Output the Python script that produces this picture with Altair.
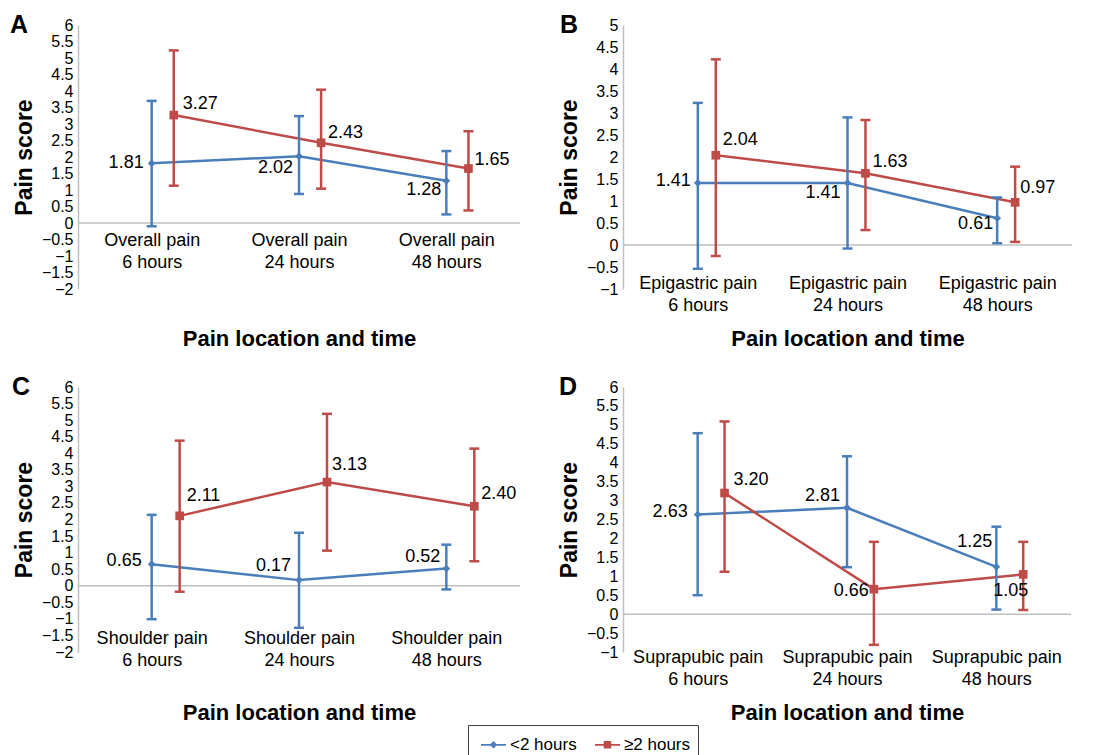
import altair as alt
import pandas as pd

FONT = "Liberation Sans"
TIMES = ["6 hours", "24 hours", "48 hours"]
SERIES = ["<2 hours", "≥2 hours"]
COLORS = ["#4A7EBB", "#BE4B48"]
GRAY = "#BFBFBF"

# ---- data ----
A_LOC = "Overall pain"
A_LT2 = [1.81, 2.02, 1.28]
A_LT2_LO = [-0.10, 0.88, 0.26]
A_LT2_HI = [3.70, 3.24, 2.18]
A_GE2 = [3.27, 2.43, 1.65]
A_GE2_LO = [1.13, 1.04, 0.38]
A_GE2_HI = [5.23, 4.04, 2.78]

B_LOC = "Epigastric pain"
B_LT2 = [1.41, 1.41, 0.61]
B_LT2_LO = [-0.54, -0.08, 0.04]
B_LT2_HI = [3.23, 2.90, 1.08]
B_GE2 = [2.04, 1.63, 0.97]
B_GE2_LO = [-0.25, 0.34, 0.07]
B_GE2_HI = [4.22, 2.84, 1.78]

C_LOC = "Shoulder pain"
C_LT2 = [0.65, 0.17, 0.52]
C_LT2_LO = [-1.01, -1.27, -0.11]
C_LT2_HI = [2.14, 1.60, 1.24]
C_GE2 = [2.11, 3.13, 2.40]
C_GE2_LO = [-0.18, 1.06, 0.74]
C_GE2_HI = [4.38, 5.19, 4.14]

D_LOC = "Suprapubic pain"
D_LT2 = [2.63, 2.81, 1.25]
D_LT2_LO = [0.50, 1.24, 0.12]
D_LT2_HI = [4.78, 4.17, 2.31]
D_GE2 = [3.20, 0.66, 1.05]
D_GE2_LO = [1.12, -0.81, 0.11]
D_GE2_HI = [5.09, 1.91, 1.91]

# ---- layout / style per panel ----
PANELS = [
    dict(letter="A", loc=A_LOC,
         series=[(A_LT2, A_LT2_LO, A_LT2_HI), (A_GE2, A_GE2_LO, A_GE2_HI)],
         ydom=(-2, 6), w=442, h=264, shift=0.15, lpad=-58, ty=39, ldx=-68,
         lab=[[(-8, 0, "right"), (-6, 12, "right"), (-5, 9, "right")],
              [(9, -11, "left"), (7, -10, "left"), (6, -9, "left")]]),
    dict(letter="B", loc=B_LOC,
         series=[(B_LT2, B_LT2_LO, B_LT2_HI), (B_GE2, B_GE2_LO, B_GE2_HI)],
         ydom=(-1, 5), w=449, h=264, shift=0.12, lpad=-15, ty=39, ldx=-63,
         lab=[[(-7, -2, "right"), (-7, 10, "right"), (-4, 6, "right")],
              [(7, -15, "left"), (7, -11, "left"), (5, -14, "left")]]),
    dict(letter="C", loc=C_LOC,
         series=[(C_LT2, C_LT2_LO, C_LT2_HI), (C_GE2, C_GE2_LO, C_GE2_HI)],
         ydom=(-2, 6), w=442, h=265, shift=0.19, lpad=-23, ty=50, ldx=-66,
         lab=[[(-10, -3, "right"), (-8, -14, "right"), (-6, -12, "right")],
              [(7, -20, "left"), (5, -17, "left"), (7, -12, "left")]]),
    dict(letter="D", loc=D_LOC,
         series=[(D_LT2, D_LT2_LO, D_LT2_HI), (D_GE2, D_GE2_LO, D_GE2_HI)],
         ydom=(-1, 6), w=448, h=265, shift=0.18, lpad=-4, ty=50, ldx=-64,
         lab=[[(-10, -3, "right"), (-7, -12, "right"), (-4, -25, "right")],
              [(9, -13, "left"), (-5, 2, "right"), (5, 17, "right")]]),
]

PATH_DIAMOND = "M-1,-0.07H1V0.07H-1Z M0,-0.3L0.3,0L0,0.3L-0.3,0Z"
PATH_SQUARE = "M-1,-0.07H1V0.07H-1Z M-0.3,-0.3H0.3V0.3H-0.3Z"


def make_panel(p, with_legend=False):
    rows = []
    for s, (vals, los, his) in enumerate(p["series"]):
        for i in range(3):
            rows.append(dict(idx=i, series=SERIES[s], s=s, value=vals[i],
                             lo=los[i], hi=his[i], text=f"{vals[i]:.2f}",
                             key=f"{s}-{i}"))
    df = pd.DataFrame(rows)

    cats = [[p["loc"], t] for t in TIMES]
    label_expr = (f"datum.value == 0 ? {cats[0]} : "
                  f"datum.value == 1 ? {cats[1]} : {cats[2]}")

    x_axis = alt.Axis(values=[0, 1, 2], labelExpr=label_expr, labelFontSize=18,
                      labelLineHeight=22, labelPadding=p["lpad"], ticks=False,
                      tickSize=0, domain=False, grid=False, labelColor="black",
                      labelFlush=False, labelOverlap=False,
                      title="Pain location and time", titleFontSize=22,
                      titleFontWeight="bold", titleColor="black", titleY=p["ty"],
                      titleBaseline="top")
    y0, y1 = p["ydom"]
    yvals = [y0 + 0.5 * k for k in range(int((y1 - y0) * 2) + 1)]
    y_axis = alt.Axis(values=yvals, format="~g", labelFontSize=16, labelPadding=5,
                      ticks=False, tickSize=0, grid=False, domainColor=GRAY,
                      domainWidth=1.5, labelColor="black", labelOverlap=False,
                      labelFlush=False,
                      title="Pain score", titleFontSize=23, titleFontWeight="bold",
                      titleColor="black", titlePadding=5)
    xs = alt.Scale(domain=[-0.5, 2.5], nice=False, zero=False)
    ys = alt.Scale(domain=[y0, y1], nice=False, zero=False)
    X = alt.X("xpos:Q", scale=xs, axis=x_axis)
    Y = lambda f: alt.Y(f"{f}:Q", scale=ys, axis=y_axis)

    base = alt.Chart(df).transform_calculate(
        xpos=f"datum.idx + (datum.s == 1 ? {p['shift']} : 0)")

    layers = [base.transform_filter("datum.key == '0-0'").mark_rule(
        color=GRAY, strokeWidth=1.5).encode(y=alt.datum(0, scale=ys, axis=y_axis))]

    for s in range(2):
        layers.append(base.transform_filter(f"datum.s == {s}").mark_line(
            color=COLORS[s], strokeWidth=2.5).encode(x=X, y=Y("value")))
    for s in range(2):
        sub = base.transform_filter(f"datum.s == {s}")
        layers.append(sub.mark_rule(color=COLORS[s], strokeWidth=2.5).encode(
            x=X, y=Y("lo"), y2="hi:Q"))
        for f in ("lo", "hi"):
            layers.append(sub.mark_tick(color=COLORS[s], orient="horizontal",
                                        size=10, thickness=2.5, opacity=1).encode(
                x=X, y=Y(f)))
    layers.append(base.transform_filter("datum.s == 0").mark_point(
        shape="diamond", filled=True, size=60, color=COLORS[0], opacity=1).encode(
        x=X, y=Y("value")))
    layers.append(base.transform_filter("datum.s == 1").mark_point(
        shape="square", filled=True, size=75, color=COLORS[1], opacity=1).encode(
        x=X, y=Y("value")))

    for s in range(2):
        for i in range(3):
            dx, dy, al = p["lab"][s][i]
            layers.append(base.transform_filter(f"datum.key == '{s}-{i}'").mark_text(
                dx=dx, dy=dy, align=al, baseline="middle", fontSize=18,
                color="black", font=FONT).encode(x=X, y=Y("value"), text="text:N"))

    # panel letter
    layers.append(alt.Chart(pd.DataFrame({"letter": [p["letter"]]})).mark_text(
        align="left", baseline="alphabetic", fontSize=25, fontWeight="bold",
        color="black", font=FONT).encode(
        text="letter:N", x=alt.value(p["ldx"]), y=alt.value(8)))

    if with_legend:
        leg = dict(orient="none", legendX=390, legendY=700, direction="horizontal",
                   title=None, labelFontSize=17, labelColor="black", labelFont=FONT,
                   symbolSize=625, symbolStrokeWidth=0, strokeColor="#404040",
                   padding=7, symbolOffset=6, columnPadding=12, labelOffset=4)
        layers.append(base.transform_filter("false").mark_point(
            filled=True, opacity=1).encode(
            color=alt.Color("series:N", scale=alt.Scale(domain=SERIES, range=COLORS),
                            legend=alt.Legend(**leg)),
            shape=alt.Shape("series:N",
                            scale=alt.Scale(domain=SERIES,
                                            range=[PATH_DIAMOND, PATH_SQUARE]),
                            legend=alt.Legend(**leg))))

    return alt.layer(*layers).properties(width=p["w"], height=p["h"])


panels = [make_panel(p, with_legend=(p["letter"] == "C")) for p in PANELS]

chart = alt.concat(*panels, columns=2, spacing={"row": 98, "column": 103},
                   bounds="flush").properties(
    padding={"left": 2, "top": 5, "right": 5, "bottom": 5}
).configure(font=FONT).configure_view(strokeWidth=0)

chart.save("out.html", embed_options={"renderer": "svg", "actions": False})
